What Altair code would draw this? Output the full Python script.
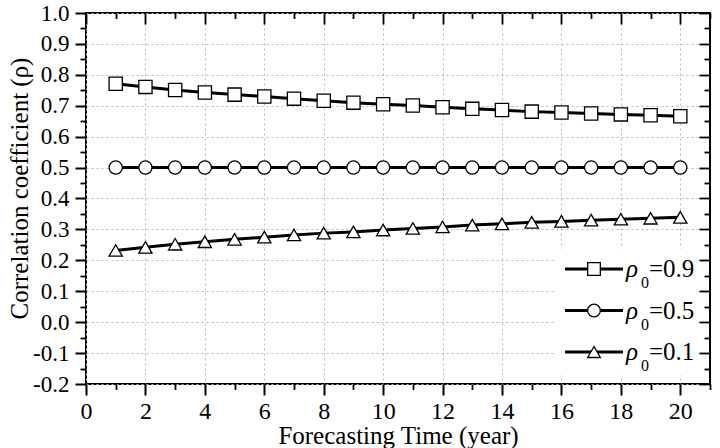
import altair as alt
import pandas as pd

FONT = "Liberation Serif"

years = [1, 2, 3, 4, 5, 6, 7, 8, 9, 10, 11, 12, 13, 14, 15, 16, 17, 18, 19, 20]
rho_09 = [0.771, 0.761, 0.751, 0.743, 0.736, 0.730, 0.723, 0.716, 0.710, 0.705,
          0.701, 0.695, 0.690, 0.686, 0.681, 0.678, 0.675, 0.672, 0.669, 0.666]
rho_05 = [0.5, 0.5, 0.5, 0.5, 0.5, 0.5, 0.5, 0.5, 0.5, 0.5,
          0.5, 0.5, 0.5, 0.5, 0.5, 0.5, 0.5, 0.5, 0.5, 0.5]
rho_01 = [0.232, 0.242, 0.252, 0.260, 0.268, 0.275, 0.282, 0.288, 0.292, 0.298,
          0.303, 0.308, 0.314, 0.318, 0.323, 0.326, 0.330, 0.333, 0.336, 0.339]
series_labels = ["rho0=0.9", "rho0=0.5", "rho0=0.1"]
legend_symbol = ["ρ", "ρ", "ρ"]
legend_sub = ["0", "0", "0"]
legend_value = ["=0.9", "=0.5", "=0.1"]

x_major = [0, 2, 4, 6, 8, 10, 12, 14, 16, 18, 20]
x_minor = [1, 3, 5, 7, 9, 11, 13, 15, 17, 19, 21]
y_major = [-0.2, -0.1, 0.0, 0.1, 0.2, 0.3, 0.4, 0.5, 0.6, 0.7, 0.8, 0.9, 1.0]
y_minor = [-0.15, -0.05, 0.05, 0.15, 0.25, 0.35, 0.45, 0.55, 0.65, 0.75, 0.85, 0.95]

rows = []
for lab, vals in zip(series_labels, [rho_09, rho_05, rho_01]):
    for yr, v in zip(years, vals):
        rows.append({"year": yr, "rho": v, "series": lab})
df = pd.DataFrame(rows)

legend_df = pd.DataFrame({"series": series_labels, "sym": legend_symbol,
                          "sub": legend_sub, "val": legend_value})

TOP = 13
W, H = 624, 371
xs = alt.Scale(domain=[0, 21], nice=False, zero=False)
ys = alt.Scale(domain=[-0.2, 1.0], nice=False, zero=False)
shape_scale = alt.Scale(domain=series_labels, range=["square", "circle", "triangle-up"])
# legend row positions (pixels from plot top)
leg_y = alt.Y("series:N", axis=None,
              scale=alt.Scale(type="point", domain=series_labels,
                              range=[269 - TOP, 352 - TOP], padding=0))


def tick_axis(**kw):
    base = dict(domain=False, labels=False, grid=False, title="",
                tickColor="black", tickWidth=1.8)
    base.update(kw)
    return alt.Axis(**base)


lines = alt.Chart(df).mark_line(color="black", strokeWidth=3).encode(
    x=alt.X("year:Q", scale=xs, axis=alt.Axis(
        orient="bottom", values=x_major, tickSize=11, tickWidth=2, tickColor="black",
        domain=False, grid=True, gridColor="#b8b8b8", gridDash=[2, 3], gridWidth=1,
        labelFont=FONT, labelFontSize=24, labelColor="black", labelPadding=4,
        labelFlush=False, labelOverlap=False,
        title="Forecasting Time (year)", titleFont=FONT, titleFontSize=25,
        titleFontWeight="normal", titleColor="black", titleX=W / 2, titleY=59,
        titleBaseline="alphabetic", titleAlign="center")),
    y=alt.Y("rho:Q", scale=ys, axis=alt.Axis(
        orient="left", values=y_major, format=".1f",
        labelExpr="replace(datum.label, '\u2212', '-')",
        tickSize=11, tickWidth=2, tickColor="black",
        domain=False, grid=True, gridColor="#b8b8b8", gridDash=[2, 3], gridWidth=1,
        labelFont=FONT, labelFontSize=23, labelColor="black", labelPadding=6,
        labelFlush=False, labelOverlap=False,
        title="Correlation coefficient (ρ)", titleFont=FONT, titleFontSize=25,
        titleFontWeight="normal", titleColor="black", titleAngle=270,
        titleX=-59, titleY=188 - TOP, titleBaseline="alphabetic", titleAlign="center")),
    detail="series:N",
)

points = alt.Chart(df).mark_point(
    filled=True, fill="white", stroke="black", strokeWidth=1.3, size=175, opacity=1
).encode(
    x=alt.X("year:Q", scale=xs, axis=tick_axis(orient="bottom", values=x_minor, tickSize=5.5)),
    y=alt.Y("rho:Q", scale=ys, axis=tick_axis(orient="left", values=y_minor, tickSize=6)),
    shape=alt.Shape("series:N", scale=shape_scale, legend=None),
)

# mirrored inward ticks on top and right
mirror_major = alt.Chart(df).mark_point(opacity=0).encode(
    x=alt.X("year:Q", scale=xs, axis=tick_axis(orient="bottom", values=x_major, tickSize=11, offset=-H)),
    y=alt.Y("rho:Q", scale=ys, axis=tick_axis(orient="left", values=y_major, tickSize=11, offset=-W)),
)
mirror_minor = alt.Chart(df).mark_point(opacity=0).encode(
    x=alt.X("year:Q", scale=xs, axis=tick_axis(orient="bottom", values=x_minor, tickSize=5.5, offset=-H)),
    y=alt.Y("rho:Q", scale=ys, axis=tick_axis(orient="left", values=y_minor, tickSize=6, offset=-W)),
)

# legend
leg_bg = alt.Chart(legend_df).mark_rect(fill="white").encode(
    x=alt.value(469), x2=alt.value(612), y=alt.value(249 - TOP), y2=alt.value(375 - TOP))
leg_line = alt.Chart(legend_df).mark_rule(color="black", strokeWidth=3).encode(
    x=alt.value(479), x2=alt.value(537), y=leg_y)
leg_mark = alt.Chart(legend_df).mark_point(
    filled=True, fill="white", stroke="black", strokeWidth=1.3, size=160, opacity=1
).encode(x=alt.value(508), y=leg_y,
         shape=alt.Shape("series:N", scale=shape_scale, legend=None))
leg_sym = alt.Chart(legend_df).mark_text(
    font=FONT, fontSize=25, fontStyle="italic", align="left", baseline="alphabetic",
    dy=8, color="black").encode(x=alt.value(540), y=leg_y, text="sym:N")
leg_sub = alt.Chart(legend_df).mark_text(
    font=FONT, fontSize=16, align="left", baseline="alphabetic",
    dy=19, color="black").encode(x=alt.value(555), y=leg_y, text="sub:N")
leg_val = alt.Chart(legend_df).mark_text(
    font=FONT, fontSize=25, align="left", baseline="alphabetic",
    dy=8, color="black").encode(x=alt.value(563), y=leg_y, text="val:N")

chart = alt.layer(
    lines, points, mirror_major, mirror_minor,
    leg_bg, leg_line, leg_mark, leg_sym, leg_sub, leg_val
).resolve_scale(
    y="independent"
).resolve_axis(x="independent", y="independent").properties(
    width=W, height=H,
    autosize=alt.AutoSizeParams(type="none"),
    padding={"left": 86, "top": TOP, "right": 10, "bottom": 64},
    background="white",
).configure_view(stroke="black", strokeWidth=2)

chart.save("out.html", embed_options={"renderer": "svg", "actions": False})
